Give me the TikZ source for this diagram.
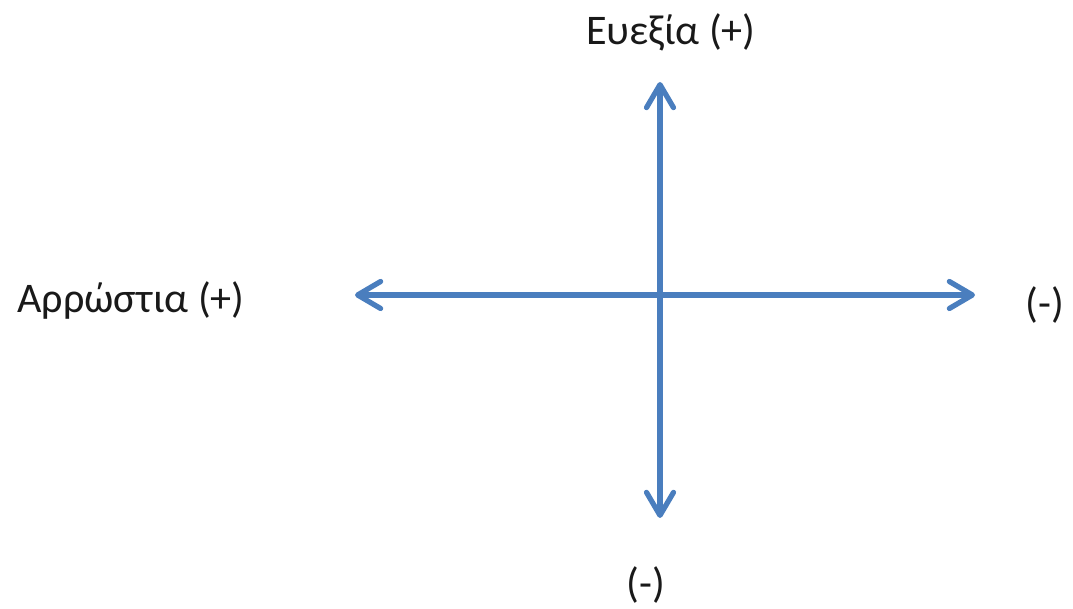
\documentclass[tikz,border=0pt]{standalone}
\usepackage{fontspec}
\setmainfont{Carlito}
\usepackage{xcolor,tikz}
\usetikzlibrary{arrows.meta}
\definecolor{axisblue}{RGB}{74,126,190}

\begin{document}
\begin{tikzpicture}[x=0.2mm,y=-0.2mm,
  label/.style={inner sep=0pt,font=\fontsize{24}{28}\selectfont,text=black!90},
  axis/.style={{Straight Barb[length=4.6mm,width=5.4mm,line join=round,line cap=round]}-{Straight Barb[length=4.6mm,width=5.4mm,line join=round,line cap=round]},
    line width=1.05mm,draw=axisblue}]
\useasboundingbox (0,0) rectangle (1073,609);
\coordinate (west) at (355,295);
\coordinate (east) at (975,295);
\coordinate (north) at (660,82);
\coordinate (south) at (660,518);
\node[label] (health) at (671,32) {Ευεξία (+)};
\node[label] (illness) at (131,300) {Αρρώστια (+)};
\node[label] (minusright) at (1045,305) {(-)};
\node[label] (minusdown) at (646,585) {(-)};
\draw[axis] (west)--(east);
\draw[axis] (north)--(south);
\end{tikzpicture}
\end{document}
